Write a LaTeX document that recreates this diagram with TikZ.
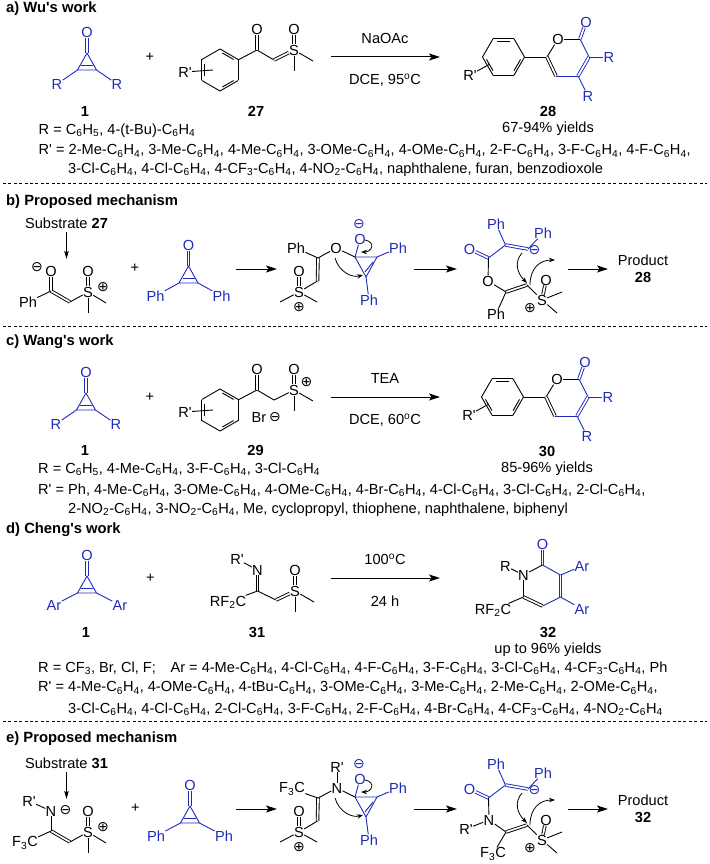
\documentclass[tikz,border=0pt]{standalone}
\usepackage{fontspec}
\setmainfont{Liberation Sans}[Ligatures=TeXOff]
\newfontfamily\chargefont{DejaVu Sans}
\usetikzlibrary{arrows.meta}
\definecolor{chemblue}{RGB}{30,42,185}
\newcommand{\Cs}{C\textsubscript{6}H\textsubscript{4}}
\newcommand{\Cf}{C\textsubscript{6}H\textsubscript{5}}
\newcommand{\chgpos}{{\chargefont ⊕}}
\newcommand{\chgneg}{{\chargefont ⊖}}
\tikzset{
    bond/.style={line width=.9pt, line join=round},
    bbond/.style={bond, draw=chemblue},
    dbl/.style={bond, double, double distance=1.7pt},
    bdbl/.style={dbl, draw=chemblue},
    atom/.style={inner sep=.2pt},
    batom/.style={atom, text=chemblue},
    chg/.style={inner sep=0pt, font=\fontsize{14}{14}\selectfont},
    bchg/.style={chg, text=chemblue},
    txt/.style={anchor=west, inner sep=0pt},
    ttl/.style={anchor=west, inner sep=0pt, font=\fontsize{14.8}{16}\selectfont\bfseries},
    num/.style={font=\fontsize{14.6}{16}\selectfont\bfseries},
    rxn/.style={line width=1pt, -{Stealth[length=11pt,width=7pt,inset=2.5pt]}},
    flow/.style={line width=.8pt, -{Stealth[length=6pt,width=4.5pt]}},
    sepline/.style={line width=.7pt, dash pattern=on 3pt off 2.4pt},
}
% ring of six bonds, at x, y, turned by an angle
\newcommand{\phring}[3]{
    \foreach \a in {0,60,...,300}
        \draw[bond, shift={(#1,#2)}] (\a+#3:21) -- (\a+60+#3:21);
    \foreach \a in {0,120,240}
        \draw[bond, shift={(#1,#2)}] (\a+#3+8:17.2) -- (\a+#3+52:17.2);
}
\begin{document}
\begin{tikzpicture}[x=1pt, y=-1pt, font=\fontsize{14.6}{16}\selectfont]
    \useasboundingbox (0,0) rectangle (709,864);

    % titles and dashed lines
    \foreach \n/\y/\t in {a/9/a) Wu's work, b/202/b) Proposed mechanism, c/342/c) Wang's work, d/530/d) Cheng's work, e/739/e) Proposed mechanism}
        \node[ttl] (\n-title) at (6,\y) {\t};
    \foreach \n/\y in {a/183, b/326, d/721} {
        \coordinate (\n-l) at (3,\y);
        \coordinate (\n-r) at (707,\y);
        \draw[sepline] (\n-l) -- (\n-r);
    }

    % cyclopropenones
    \foreach \n/\x/\y/\r/\dx/\dy in {a/87/53/R/30/31, c/86/393/R/30/31, d/87/576/Ar/33/29, b/188.5/266/Ph/33/30, e/190/806/Ph/34/30} {
        \begin{scope}[shift={(\x,\y)}]
            \coordinate (\n-top) at (0,0);
            \coordinate (\n-bl) at (-9.5,17);
            \coordinate (\n-br) at (9.5,17);
            \coordinate (\n-il) at (-6,12);
            \coordinate (\n-ir) at (6,12);
            \node[batom] (\n-co) at (0,-21) {O};
            \node[batom] (\n-rl) at (-\dx,\dy) {\r};
            \node[batom] (\n-rr) at (\dx,\dy) {\r};
            \draw[bdbl] (\n-co) -- (\n-top);
            \draw[bbond] (\n-bl) -- (\n-top) -- (\n-br) -- cycle;
            \draw[bbond] (\n-il) -- (\n-ir);
            \draw[bbond] (\n-bl) -- (\n-rl);
            \draw[bbond] (\n-br) -- (\n-rr);
        \end{scope}
    }
    \foreach \n/\x/\y in {a/85/111, c/85/450, d/86/632}
        \node[num] (\n-one) at (\x,\y) {1};
    \foreach \n/\x/\y in {a/150/57, c/150/397, d/150.5/578, b/135/268, e/135.5/808}
        \node[inner sep=0pt] (\n-plus) at (\x,\y) {+};

    % phenyl reagents 27 and 29
    \foreach \n/\y/\st in {a/0/dbl, c/340/bond} {
        \begin{scope}[shift={(0,\y)}]
            \phring{220}{70}{30}
            \node[atom] (\n-rp) at (185,72) {R'};
            \coordinate (\n-rpe) at (213,70);
            \draw[bond] (\n-rp) -- (\n-rpe);
            \coordinate (\n-ph) at (238,60);
            \coordinate (\n-k) at (257,50);
            \coordinate (\n-ch) at (274,60);
            \coordinate (\n-me) at (313,61);
            \coordinate (\n-mf) at (294,71);
            \node[atom] (\n-ko) at (257,29) {O};
            \node[atom] (\n-s) at (294,50) {S};
            \node[atom] (\n-so) at (294,29) {O};
            \draw[bond] (\n-ph) -- (\n-k) -- (\n-ch);
            \draw[dbl] (\n-k) -- (\n-ko);
            \draw[\st] (\n-ch) -- (\n-s);
            \draw[dbl] (\n-s) -- (\n-so);
            \draw[bond] (\n-s) -- (\n-me);
            \draw[bond] (\n-s) -- (\n-mf);
        \end{scope}
    }
    \node[chg] (c-spos) at (306.5,382) {\chgpos};
    \node[atom] (c-br) at (259,417) {Br};
    \node[chg] (c-bneg) at (275,417) {\chgneg};

    % products 28 and 30
    \foreach \n/\x/\y/\lab/\yld in {a/0/0/28/67-94, c/-1/340/30/85-96} {
        \begin{scope}[shift={(\x,\y)}]
            \phring{503.5}{57}{0}
            \coordinate (\n-pa) at (524.5,57);
            \coordinate (\n-c6) at (547,57);
            \node[atom] (\n-ro) at (558,39) {O};
            \coordinate (\n-c2) at (580,39);
            \coordinate (\n-c3) at (589,57);
            \coordinate (\n-c4) at (578,76);
            \coordinate (\n-c5) at (556,76);
            \node[batom] (\n-po) at (586,22) {O};
            \node[batom] (\n-r3) at (609,57) {R};
            \node[batom] (\n-r4) at (588,96) {R};
            \node[atom] (\n-prp) at (470,75) {R'};
            \coordinate (\n-prpe) at (490,64);
            \draw[bond] (\n-prp) -- (\n-prpe);
            \draw[bond] (\n-pa) -- (\n-c6);
            \draw[bond] (\n-c6) -- (\n-ro);
            \draw[bond] (\n-ro) -- (\n-c2);
            \draw[bbond] (\n-c2) -- (\n-c3);
            \draw[bdbl] (\n-c2) -- (\n-po);
            \draw[bdbl] (\n-c3) -- (\n-c4);
            \draw[bbond] (\n-c3) -- (\n-r3);
            \draw[bbond] (\n-c4) -- (\n-r4);
            \draw[bbond] (\n-c4) -- (\n-c5);
            \draw[dbl] (\n-c5) -- (\n-c6);
            \node[num] (\n-lab) at (548,111) {\lab};
            \node (\n-yld) at (548,129) {\yld\% yields};
        \end{scope}
    }

    % reaction arrows of a, c, d
    \foreach \n/\y/\ltop/\lbot in {a/57/NaOAc/{DCE, 95\textsuperscript{o}C}, c/397/TEA/{DCE, 60\textsuperscript{o}C}, d/578/100\textsuperscript{o}C/24 h} {
        \coordinate (\n-from) at (331,\y);
        \coordinate (\n-to) at (440,\y);
        \draw[rxn] (\n-from) -- (\n-to);
        \node (\n-top-lab) at (385,\y-19) {\ltop};
        \node (\n-bot-lab) at (385,\y+23) {\lbot};
    }
    \node[num] (a-n27) at (256,111) {27};
    \node[num] (c-n29) at (255.5,450) {29};

    % reagent 31
    \node[atom] (d-rp) at (237,559) {R'};
    \node[atom] (d-n) at (257.5,570) {N};
    \coordinate (d-c) at (257.5,591);
    \node[atom] (d-rf) at (228,602) {RF\textsubscript{2}C};
    \coordinate (d-ch) at (276,600);
    \node[atom] (d-s) at (295,591) {S};
    \node[atom] (d-so) at (295,570) {O};
    \coordinate (d-me) at (314,602);
    \coordinate (d-mf) at (295,612);
    \draw[bond] (d-rp) -- (d-n);
    \draw[dbl] (d-n) -- (d-c);
    \draw[bond] (d-c) -- (d-rf);
    \draw[bond] (d-c) -- (d-ch);
    \draw[dbl] (d-ch) -- (d-s);
    \draw[dbl] (d-s) -- (d-so);
    \draw[bond] (d-s) -- (d-me);
    \draw[bond] (d-s) -- (d-mf);
    \node[num] (d-n31) at (257,632) {31};

    % product 32
    \node[batom] (p-o) at (542.5,544) {O};
    \coordinate (p-c2) at (542.5,565);
    \node[atom] (p-n) at (523.5,575) {N};
    \node[atom] (p-r) at (505.5,566) {R};
    \coordinate (p-c3) at (560.5,575);
    \coordinate (p-c4) at (560.5,597);
    \coordinate (p-c5) at (542.5,606);
    \coordinate (p-c6) at (523.5,597);
    \node[batom] (p-a3) at (582,566) {Ar};
    \node[batom] (p-a4) at (582,609) {Ar};
    \node[atom] (p-rf) at (493,610) {RF\textsubscript{2}C};
    \draw[bdbl] (p-c2) -- (p-o);
    \draw[bond] (p-c2) -- (p-n);
    \draw[bond] (p-n) -- (p-r);
    \draw[bond] (p-n) -- (p-c6);
    \draw[bbond] (p-c2) -- (p-c3);
    \draw[bdbl] (p-c3) -- (p-c4);
    \draw[bbond] (p-c3) -- (p-a3);
    \draw[bbond] (p-c4) -- (p-a4);
    \draw[bbond] (p-c4) -- (p-c5);
    \draw[dbl] (p-c5) -- (p-c6);
    \draw[bond] (p-c6) -- (p-rf);
    \node[num] (p-lab) at (548,632) {32};
    \node (p-yld) at (548,650) {up to 96\% yields};

    % lists of groups
    \node[txt] (a-t1) at (38.5,131) {R = \Cf, 4-(t-Bu)-\Cs};
    \node[txt] (a-t2) at (38.5,151) {R' = 2-Me-\Cs, 3-Me-\Cs, 4-Me-\Cs, 3-OMe-\Cs, 4-OMe-\Cs, 2-F-\Cs, 3-F-\Cs, 4-F-\Cs,};
    \node[txt] (a-t3) at (68,170) {3-Cl-\Cs, 4-Cl-\Cs, 4-CF\textsubscript{3}-\Cs, 4-NO\textsubscript{2}-\Cs, naphthalene, furan, benzodioxole};
    \node[txt] (c-t1) at (38,469) {R = \Cf, 4-Me-\Cs, 3-F-\Cs, 3-Cl-\Cs};
    \node[txt] (c-t2) at (38,490) {R' = Ph, 4-Me-\Cs, 3-OMe-\Cs, 4-OMe-\Cs, 4-Br-\Cs, 4-Cl-\Cs, 3-Cl-\Cs, 2-Cl-\Cs,};
    \node[txt] (c-t3) at (68,510) {2-NO\textsubscript{2}-\Cs, 3-NO\textsubscript{2}-\Cs, Me, cyclopropyl, thiophene, naphthalene, biphenyl};
    \node[txt] (d-t1) at (38,668) {R = CF\textsubscript{3}, Br, Cl, F;\quad Ar = 4-Me-\Cs, 4-Cl-\Cs, 4-F-\Cs, 3-F-\Cs, 3-Cl-\Cs, 4-CF\textsubscript{3}-\Cs, Ph};
    \node[txt] (d-t2) at (38,688) {R' = 4-Me-\Cs, 4-OMe-\Cs, 4-tBu-\Cs, 3-OMe-\Cs, 3-Me-\Cs, 2-Me-\Cs, 2-OMe-\Cs,};
    \node[txt] (d-t3) at (68,709) {3-Cl-\Cs, 4-Cl-\Cs, 2-Cl-\Cs, 3-F-\Cs, 2-F-\Cs, 4-Br-\Cs, 4-CF\textsubscript{3}-\Cs, 4-NO\textsubscript{2}-\Cs};

    % mechanisms b and e, the parts they share
    \foreach \n/\y/\subn/\prodn in {b/0/27/28, e/540/31/32} {
        \begin{scope}[shift={(0,\y)}]
            \node (\n-sub) at (66.5,223) {Substrate \textbf{\subn}};
            \coordinate (\n-subto) at (66.5,259);
            \draw[line width=.8pt, -{Stealth[length=8pt,width=4.5pt,inset=1.5pt]}] (\n-sub) -- (\n-subto);
            % left sulfoxide
            \coordinate (\n-lc) at (51,291);
            \coordinate (\n-lch) at (70,302);
            \node[atom] (\n-ls) at (88,292) {S};
            \node[atom] (\n-lo) at (88,271) {O};
            \node[chg] (\n-lpos) at (103,287) {\chgpos};
            \coordinate (\n-lme) at (106,303);
            \coordinate (\n-lmf) at (88,313);
            \draw[dbl] (\n-lc) -- (\n-lch);
            \draw[bond] (\n-lch) -- (\n-ls);
            \draw[dbl] (\n-ls) -- (\n-lo);
            \draw[bond] (\n-ls) -- (\n-lme);
            \draw[bond] (\n-ls) -- (\n-lmf);
            % cyclopropene adduct
            \coordinate (\n-ma) at (355,257);
            \coordinate (\n-mb) at (377,257);
            \coordinate (\n-mc) at (366,277);
            \coordinate (\n-md) at (373,262);
            \coordinate (\n-me) at (365,272);
            \node[batom] (\n-mo) at (360,239) {O};
            \node[bchg] (\n-mneg) at (359,224) {\chgneg};
            \node[batom] (\n-mp1) at (398,248) {Ph};
            \node[batom] (\n-mp2) at (369,300) {Ph};
            \draw[bbond] (\n-ma) -- (\n-mb) -- (\n-mc) -- cycle;
            \draw[bbond] (\n-md) -- (\n-me);
            \draw[bbond] (\n-ma) -- (\n-mo);
            \draw[bbond] (\n-mb) -- (\n-mp1);
            \draw[bbond] (\n-mc) -- (\n-mp2);
            \coordinate (\n-mv) at (318,258);
            \coordinate (\n-mw) at (317.5,281);
            \node[atom] (\n-ms) at (299,292) {S};
            \node[atom] (\n-mso) at (299,271) {O};
            \node[chg] (\n-mpos) at (299,307) {\chgpos};
            \coordinate (\n-mm1) at (280,302);
            \coordinate (\n-mm2) at (317,302);
            \draw[dbl] (\n-mv) -- (\n-mw);
            \draw[bond] (\n-mw) -- (\n-ms);
            \draw[dbl] (\n-ms) -- (\n-mso);
            \draw[bond] (\n-ms) -- (\n-mm1);
            \draw[bond] (\n-ms) -- (\n-mm2);
            % ring opened form
            \node[batom] (\n-ko) at (469.5,249) {O};
            \coordinate (\n-kc) at (488.5,258);
            \coordinate (\n-kd) at (505.5,245);
            \coordinate (\n-ke) at (528,249);
            \node[batom] (\n-kp1) at (496,224) {Ph};
            \node[batom] (\n-kp2) at (543,233) {Ph};
            \node[bchg] (\n-kneg) at (534.5,250) {\chgneg};
            \draw[bdbl] (\n-ko) -- (\n-kc);
            \draw[bbond] (\n-kc) -- (\n-kd);
            \draw[bdbl] (\n-kd) -- (\n-ke);
            \draw[bbond] (\n-kd) -- (\n-kp1);
            \draw[bbond] (\n-ke) -- (\n-kp2);
            \coordinate (\n-kv) at (506,292);
            \coordinate (\n-kw) at (527,285);
            \node[atom] (\n-ks) at (542,300) {S};
            \node[atom] (\n-kso) at (546,280) {O};
            \node[chg] (\n-kpos) at (530,308) {\chgpos};
            \coordinate (\n-km1) at (562,292);
            \coordinate (\n-km2) at (557,313);
            \draw[dbl] (\n-kv) -- (\n-kw);
            \draw[bond] (\n-kw) -- (\n-ks);
            \draw[dbl] (\n-ks) -- (\n-kso);
            \draw[bond] (\n-ks) -- (\n-km1);
            \draw[bond] (\n-ks) -- (\n-km2);
            % curved arrows
            \coordinate (\n-f1) at (335,258);
            \coordinate (\n-f2) at (363,275);
            \coordinate (\n-f3) at (365,240);
            \coordinate (\n-f4) at (361,252);
            \coordinate (\n-f5) at (522,253);
            \coordinate (\n-f6) at (527,283);
            \coordinate (\n-f7) at (530,285);
            \coordinate (\n-f8) at (555,260);
            \draw[flow] (\n-f1) .. controls (339,272) and (352,278) .. (\n-f2);
            \draw[flow] (\n-f3) .. controls (376,242) and (372,252) .. (\n-f4);
            \draw[flow] (\n-f5) .. controls (514,262) and (517,273) .. (\n-f6);
            \draw[flow] (\n-f7) .. controls (530,268) and (540,260) .. (\n-f8);
            % reaction arrows
            \foreach \i/\u/\v in {1/236/277, 2/414/457, 3/568/608} {
                \coordinate (\n-a\i) at (\u,269);
                \coordinate (\n-z\i) at (\v,269);
                \draw[rxn] (\n-a\i) -- (\n-z\i);
            }
            \node (\n-prod) at (643,260) {Product};
            \node[num] (\n-pnum) at (643,277) {\prodn};
        \end{scope}
    }

    % what differs in b
    \node[chg] (b-lneg) at (37,267) {\chgneg};
    \node[atom] (b-lo1) at (51,271) {O};
    \node[atom] (b-lph) at (28,302) {Ph};
    \draw[dbl] (b-lo1) -- (b-lc);
    \draw[bond] (b-lc) -- (b-lph);
    \node[atom] (b-mh) at (296,248) {Ph};
    \node[atom] (b-mx) at (336,248) {O};
    \draw[bond] (b-mh) -- (b-mv);
    \draw[bond] (b-mv) -- (b-mx);
    \draw[bond] (b-mx) -- (b-ma);
    \node[atom] (b-kx) at (488,281) {O};
    \node[atom] (b-kh) at (496,314) {Ph};
    \draw[bond] (b-kc) -- (b-kx);
    \draw[bond] (b-kx) -- (b-kv);
    \draw[bond] (b-kv) -- (b-kh);

    % what differs in e
    \node[atom] (e-ln) at (51,811) {N};
    \node[chg] (e-lneg) at (65.5,810) {\chgneg};
    \node[atom] (e-lrp) at (29,801) {R'};
    \node[atom] (e-lf) at (25,843) {F\textsubscript{3}C};
    \draw[bond] (e-lrp) -- (e-ln);
    \draw[bond] (e-ln) -- (e-lc);
    \draw[bond] (e-lc) -- (e-lf);
    \node[atom] (e-mf) at (292,789) {F\textsubscript{3}C};
    \node[atom] (e-mx) at (337,788) {N};
    \node[atom] (e-mrp) at (337,767) {R'};
    \draw[bond] (e-mf) -- (e-mv);
    \draw[bond] (e-mv) -- (e-mx);
    \draw[bond] (e-mx) -- (e-ma);
    \draw[bond] (e-mx) -- (e-mrp);
    \node[atom] (e-kx) at (489,820) {N};
    \node[atom] (e-krp) at (466,829) {R'};
    \node[atom] (e-kf) at (493,854) {F\textsubscript{3}C};
    \draw[bond] (e-kc) -- (e-kx);
    \draw[bond] (e-kx) -- (e-kv);
    \draw[bond] (e-kx) -- (e-krp);
    \draw[bond] (e-kv) -- (e-kf);
\end{tikzpicture}
\end{document}
